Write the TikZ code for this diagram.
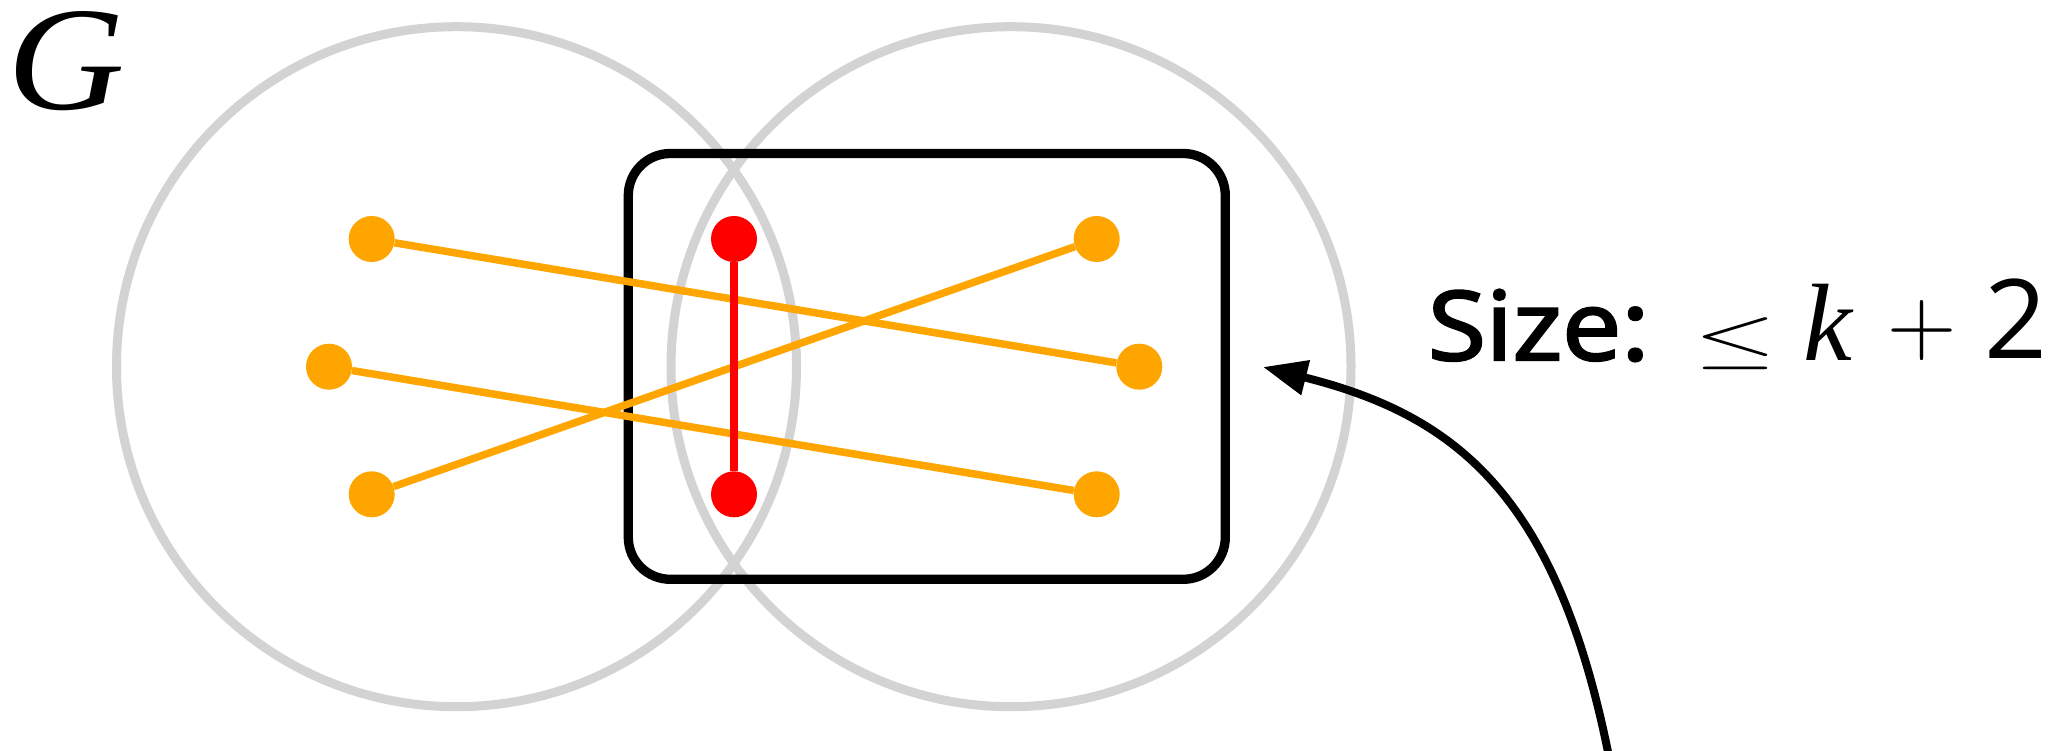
\documentclass[tikz,border=0pt]{standalone}
\usepackage{fontspec}
\usepackage{graphicx}
\usetikzlibrary{arrows.meta}
\newfontfamily\osans{Open Sans}
\newfontfamily\osansmed[FakeBold=2.5]{Open Sans}
\newfontfamily\tserif{Liberation Serif}
\definecolor{ringgray}{HTML}{D3D3D3}
\definecolor{dotorange}{HTML}{FFA500}
\definecolor{dotred}{HTML}{FF0000}
\begin{document}
\begin{tikzpicture}[x=1pt,y=-1pt,
  ring/.style={draw=ringgray, line width=9pt},
  box/.style={draw=black, line width=9.3pt, rounded corners=42pt},
  odot/.style={circle, fill=dotorange, minimum size=46pt, inner sep=0pt},
  rdot/.style={circle, fill=dotred, minimum size=46pt, inner sep=0pt},
  oedge/.style={draw=dotorange, line width=7.5pt},
  redge/.style={draw=dotred, line width=7.5pt},
  pointer/.style={draw=black, line width=8pt, -{Triangle[length=44pt,width=34pt]}},
  txt/.style={inner sep=0pt, outer sep=0pt},
]
\useasboundingbox (0,0) rectangle (2062,751);
% sets
\draw[ring] (456.5,366.7) circle [radius=340pt];
\draw[ring] (1011,366.7) circle [radius=340pt];
\draw[box] (628.3,153.5) rectangle (1225.3,579.3);
% vertices
\node[odot] (a1) at (371.7,239) {};
\node[odot] (a2) at (329,366.7) {};
\node[odot] (a3) at (371.7,494.3) {};
\node[rdot] (r1) at (734,239) {};
\node[rdot] (r2) at (734,494.3) {};
\node[odot] (b1) at (1096.7,239) {};
\node[odot] (b2) at (1139.3,366.7) {};
\node[odot] (b3) at (1096.7,494.3) {};
% edges
\draw[oedge] (a1) -- (b2);
\draw[oedge] (a2) -- (b3);
\draw[oedge] (a3) -- (b1);
\draw[redge] (r1) -- (r2);
% labels
\node[txt, anchor=base west, font=\tserif\itshape\fontsize{148}{150}\selectfont] (glabel) at (7,109.5) {\scalebox{1.1}[1]{G}};
\node[txt, anchor=base west, font=\osansmed\fontsize{96}{100}\selectfont] (sizetxt) at (1428,360) {\scalebox{1.1}[1]{Size:}};
\node[txt, anchor=base] (leq) at (1736,360) {\resizebox*{82pt}{52pt}{$\leq$}};
\node[txt, anchor=base, font=\tserif\itshape\fontsize{110}{120}\selectfont] (kvar) at (1828,360) {k};
\node[txt, anchor=center, font=\rmfamily\fontsize{96}{100}\selectfont] (plus) at (1922,330.8) {+};
\node[txt, anchor=base west, font=\osans\fontsize{110}{120}\selectfont] (two) at (1984.5,358.3) {2};
% pointer
\coordinate (arrowstart) at (1609,757);
\coordinate (arrowtip) at (1263,367);
\draw[pointer] (arrowstart) .. controls (1557,496.2) and (1457,415.6) .. (arrowtip);
\end{tikzpicture}
\end{document}
